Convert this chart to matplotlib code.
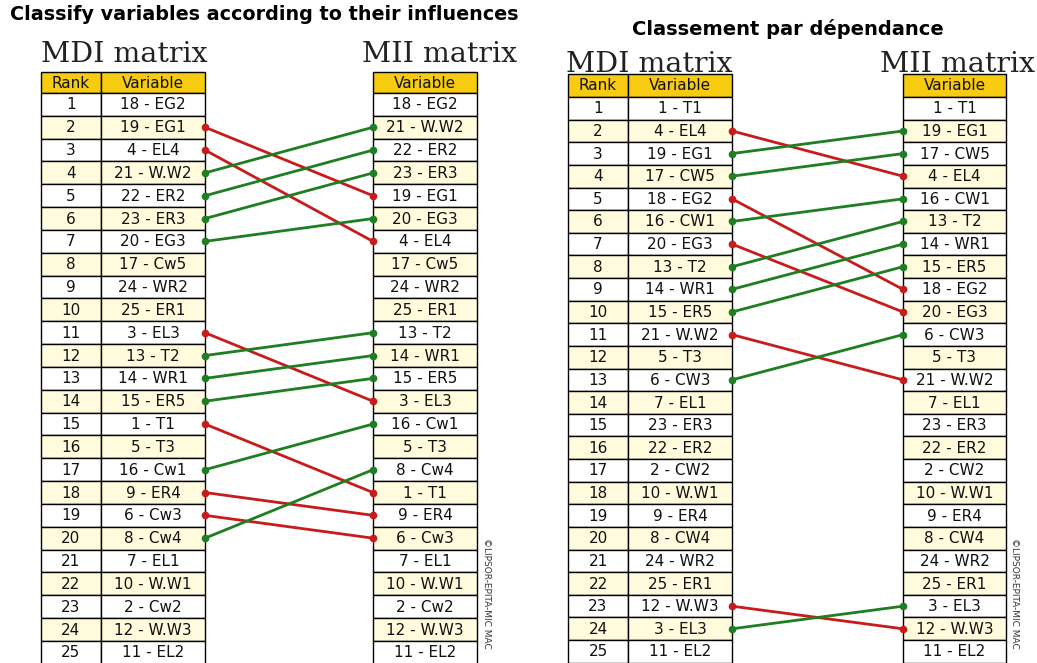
import matplotlib.pyplot as plt
from matplotlib.patches import Rectangle

# Classify variables according to their influences
infl_mdi = ['18 - EG2', '19 - EG1', '4 - EL4', '21 - W.W2', '22 - ER2', '23 - ER3', '20 - EG3',
            '17 - Cw5', '24 - WR2', '25 - ER1', '3 - EL3', '13 - T2', '14 - WR1', '15 - ER5',
            '1 - T1', '5 - T3', '16 - Cw1', '9 - ER4', '6 - Cw3', '8 - Cw4', '7 - EL1',
            '10 - W.W1', '2 - Cw2', '12 - W.W3', '11 - EL2']
infl_mii = ['18 - EG2', '21 - W.W2', '22 - ER2', '23 - ER3', '19 - EG1', '20 - EG3', '4 - EL4',
            '17 - Cw5', '24 - WR2', '25 - ER1', '13 - T2', '14 - WR1', '15 - ER5', '3 - EL3',
            '16 - Cw1', '5 - T3', '8 - Cw4', '1 - T1', '9 - ER4', '6 - Cw3', '7 - EL1',
            '10 - W.W1', '2 - Cw2', '12 - W.W3', '11 - EL2']

# Classement par dependance
dep_mdi = ['1 - T1', '4 - EL4', '19 - EG1', '17 - CW5', '18 - EG2', '16 - CW1', '20 - EG3',
           '13 - T2', '14 - WR1', '15 - ER5', '21 - W.W2', '5 - T3', '6 - CW3', '7 - EL1',
           '23 - ER3', '22 - ER2', '2 - CW2', '10 - W.W1', '9 - ER4', '8 - CW4', '24 - WR2',
           '25 - ER1', '12 - W.W3', '3 - EL3', '11 - EL2']
dep_mii = ['1 - T1', '19 - EG1', '17 - CW5', '4 - EL4', '16 - CW1', '13 - T2', '14 - WR1',
           '15 - ER5', '18 - EG2', '20 - EG3', '6 - CW3', '5 - T3', '21 - W.W2', '7 - EL1',
           '23 - ER3', '22 - ER2', '2 - CW2', '10 - W.W1', '9 - ER4', '8 - CW4', '24 - WR2',
           '25 - ER1', '3 - EL3', '12 - W.W3', '11 - EL2']

GOLD = '#F7CB10'
STRIPE = '#FFFBDC'
RED = '#C71C1C'
GREEN = '#1F7D22'
CELL_FONT = 11


def cell(ax, x0, x1, y0, h, fill, label):
    ax.add_patch(Rectangle((x0, y0), x1 - x0, h, facecolor=fill, edgecolor='black', lw=1.0))
    ax.text((x0 + x1) / 2, y0 + h / 2 + 0.5, label, ha='center', va='center',
            fontsize=CELL_FONT, family='DejaVu Sans', color='#111111')


def draw_panel(ax, mdi, mii, xr, xv, xv1, xm, xm1, top, head_h, row_h, mark_x):
    # headers
    cell(ax, xr, xv, top, head_h, GOLD, 'Rank')
    cell(ax, xv, xv1, top, head_h, GOLD, 'Variable')
    cell(ax, xm, xm1, top, head_h, GOLD, 'Variable')

    y_start = top + head_h
    for i, (a, b) in enumerate(zip(mdi, mii)):
        y0 = y_start + i * row_h
        fill = STRIPE if i % 2 else 'white'
        cell(ax, xr, xv, y0, row_h, fill, str(i + 1))
        cell(ax, xv, xv1, y0, row_h, fill, a)
        cell(ax, xm, xm1, y0, row_h, fill, b)

    # links between the two rankings
    for i, name in enumerate(mdi):
        j = mii.index(name)
        if j == i:
            continue
        color = RED if j > i else GREEN
        ya = y_start + (i + 0.5) * row_h
        yb = y_start + (j + 0.5) * row_h
        ax.plot([xv1, xm], [ya, yb], color=color, lw=2.0, marker='o', ms=4.5,
                solid_capstyle='round', zorder=5)

    ax.text(mark_x, y_start + 19.5 * row_h, '\u00a9LIPSOR-EPITA-MIC MAC', rotation=270,
            ha='center', va='top', fontsize=6.5, color='#333333')


fig = plt.figure(figsize=(10.37, 6.63), dpi=100)
ax = fig.add_axes([0, 0, 1, 1])
ax.set_xlim(0, 1037)
ax.set_ylim(663, 0)
ax.axis('off')

draw_panel(ax, infl_mdi, infl_mii, 41, 101, 205, 373, 477, 72, 21, 22.83, 486)
draw_panel(ax, dep_mdi, dep_mii, 568, 628, 732, 903, 1006, 74, 23, 22.63, 1015)

ax.text(10, 15, 'Classify variables according to their influences', ha='left', va='center',
        fontsize=13.8, fontweight='bold', family='DejaVu Sans')
ax.text(788, 29, 'Classement par dépendance', ha='center', va='center',
        fontsize=14, fontweight='bold', family='DejaVu Sans')

serif = dict(fontsize=20.5, family='DejaVu Serif', va='baseline', color='#222222')
ax.text(41, 62, 'MDI matrix', ha='left', **serif)
ax.text(362, 62, 'MII matrix', ha='left', **serif)
ax.text(566, 72, 'MDI matrix', ha='left', **serif)
ax.text(880, 72, 'MII matrix', ha='left', **serif)

plt.savefig('out.png', dpi=100)
